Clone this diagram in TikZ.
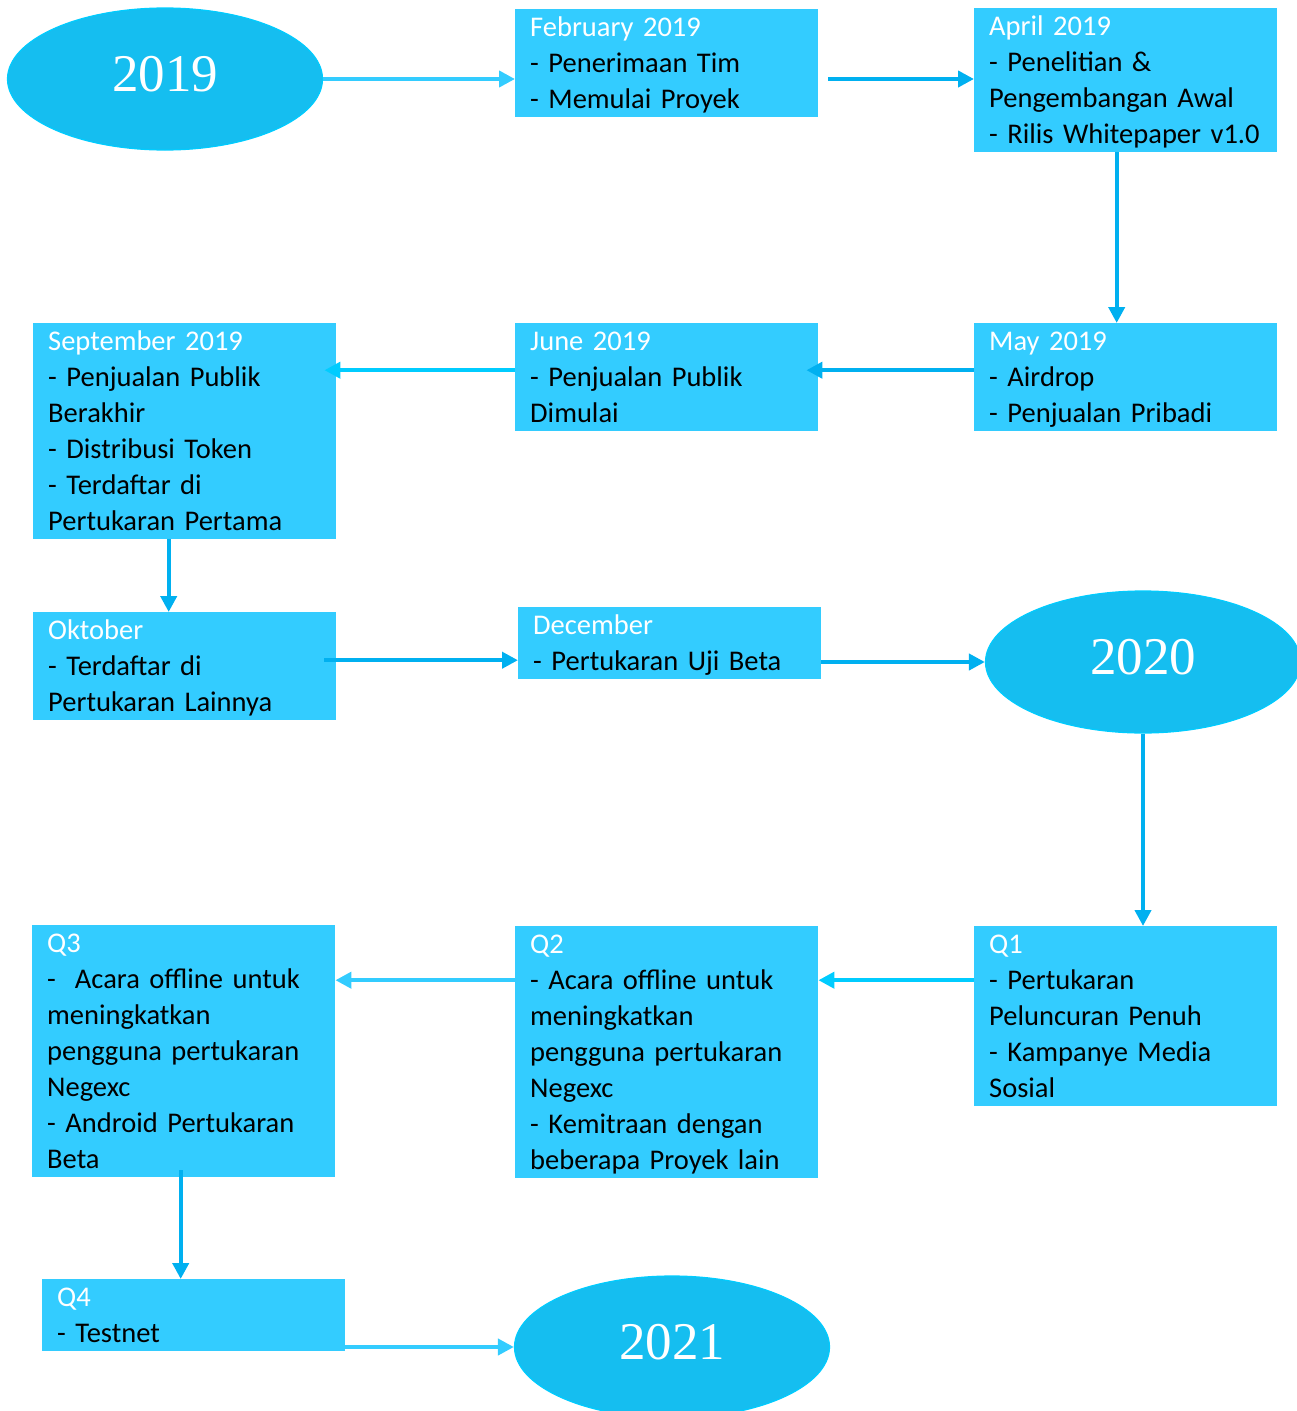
\documentclass[tikz,border=0pt]{standalone}
\usepackage{fontspec}
\setmainfont{Carlito}
\newfontfamily\yearfont{Liberation Serif}
\usetikzlibrary{shapes.geometric,arrows.meta}

\definecolor{boxblue}{HTML}{33CCFF}
\definecolor{yearfill}{HTML}{15BEF0}
\definecolor{yearedge}{HTML}{00CCFF}
\definecolor{lineA}{HTML}{00B0F0}
\definecolor{lineB}{HTML}{00CCFF}
\definecolor{lineC}{HTML}{33CCFF}

\newcommand{\boxhead}[1]{\textcolor{white}{#1}}

\begin{document}
\begin{tikzpicture}[x=1pt, y=-1pt,
    stage/.style={fill=boxblue, anchor=north west, text width=273pt, inner xsep=15pt, inner ysep=0pt,
        align=left, font=\fontsize{28.5}{36}\selectfont,
        execute at begin node=\rule{0pt}{27.5pt}, execute at end node=\rule[-8.5pt]{0pt}{8.5pt}},
    year/.style={ellipse, fill=yearfill, draw=yearedge, line width=1.2pt, minimum width=315pt,
        minimum height=142pt, inner sep=0pt, text=white, text depth=10pt,
        font=\yearfont\fontsize{53}{60}\selectfont},
    conn/.style={line width=4pt, -{Triangle[length=16pt,width=16pt]}}]
    \useasboundingbox (0, 0) rectangle (1296, 1411);

    \node (y2019) at (165, 79) [year] {2019};
    \node (feb) at (515, 9) [stage] {\boxhead{February 2019}\\- Penerimaan Tim\\- Memulai Proyek};
    \node (apr) at (974, 8) [stage] {\boxhead{April 2019}\\- Penelitian \&\\Pengembangan Awal\\- Rilis Whitepaper v1.0};
    \node (may) at (974, 323) [stage] {\boxhead{May 2019}\\- Airdrop\\- Penjualan Pribadi};
    \node (jun) at (515, 323) [stage] {\boxhead{June 2019}\\- Penjualan Publik\\Dimulai};
    \node (sep) at (33, 323) [stage] {\boxhead{September 2019}\\- Penjualan Publik\\Berakhir\\- Distribusi Token\\- Terdaftar di\\Pertukaran Pertama};
    \node (okt) at (33, 612) [stage] {\boxhead{Oktober}\\- Terdaftar di\\Pertukaran Lainnya};
    \node (dec) at (518, 607) [stage] {\boxhead{December}\\- Pertukaran Uji Beta};
    \node (y2020) at (1143, 662) [year] {2020};
    \node (q1) at (974, 926) [stage] {\boxhead{Q1}\\- Pertukaran\\Peluncuran Penuh\\- Kampanye Media\\Sosial};
    \node (q2) at (515, 926) [stage] {\boxhead{Q2}\\- Acara offline untuk\\meningkatkan\\pengguna pertukaran\\Negexc\\- Kemitraan dengan\\beberapa Proyek lain};
    \node (q3) at (32, 925) [stage] {\boxhead{Q3}\\-\ \ Acara offline untuk\\meningkatkan\\pengguna pertukaran\\Negexc\\- Android Pertukaran\\Beta};
    \node (q4) at (42, 1279) [stage] {\boxhead{Q4}\\- Testnet};
    \node (y2021) at (672, 1347) [year] {2021};

    \draw[conn, lineC] (y2019.east) -- (y2019.east -| feb.west);
    \draw[conn, lineA, shorten <=10pt] (feb.east |- y2019.east) -- (apr.west |- y2019.east);
    \draw[conn, lineA] ([xshift=-9pt]apr.south) -- ([xshift=-9pt]apr.south |- may.north);
    \draw[conn, lineA, shorten >=-12pt] ([yshift=7pt]may.west) -- ([yshift=7pt]may.west -| jun.east);
    \draw[conn, lineB, shorten >=-12pt] ([yshift=7pt]jun.west) -- ([yshift=7pt]jun.west -| sep.east);
    \draw[conn, lineA] ([xshift=-16pt]sep.south) -- ([xshift=-16pt]sep.south |- okt.north);
    \draw[conn, lineA, shorten <=-12pt] ([yshift=6pt]okt.east) -- ([yshift=6pt]okt.east -| dec.west);
    \draw[conn, lineA] (dec.east |- y2020.west) -- (y2020.west);
    \draw[conn, lineA] (y2020.south) -- (y2020.south |- q1.north);
    \draw[conn, lineB] ([yshift=36pt]q1.west) -- ([yshift=36pt]q1.west -| q2.east);
    \draw[conn, lineC] ([yshift=72pt]q2.west) -- ([yshift=72pt]q2.west -| q3.east);
    \draw[conn, lineA, shorten <=-7pt] ([xshift=-3pt]q3.south) -- ([xshift=-3pt]q3.south |- q4.north);
    \draw[conn, lineC] (q4.east |- y2021.west) -- (y2021.west);
\end{tikzpicture}
\end{document}
